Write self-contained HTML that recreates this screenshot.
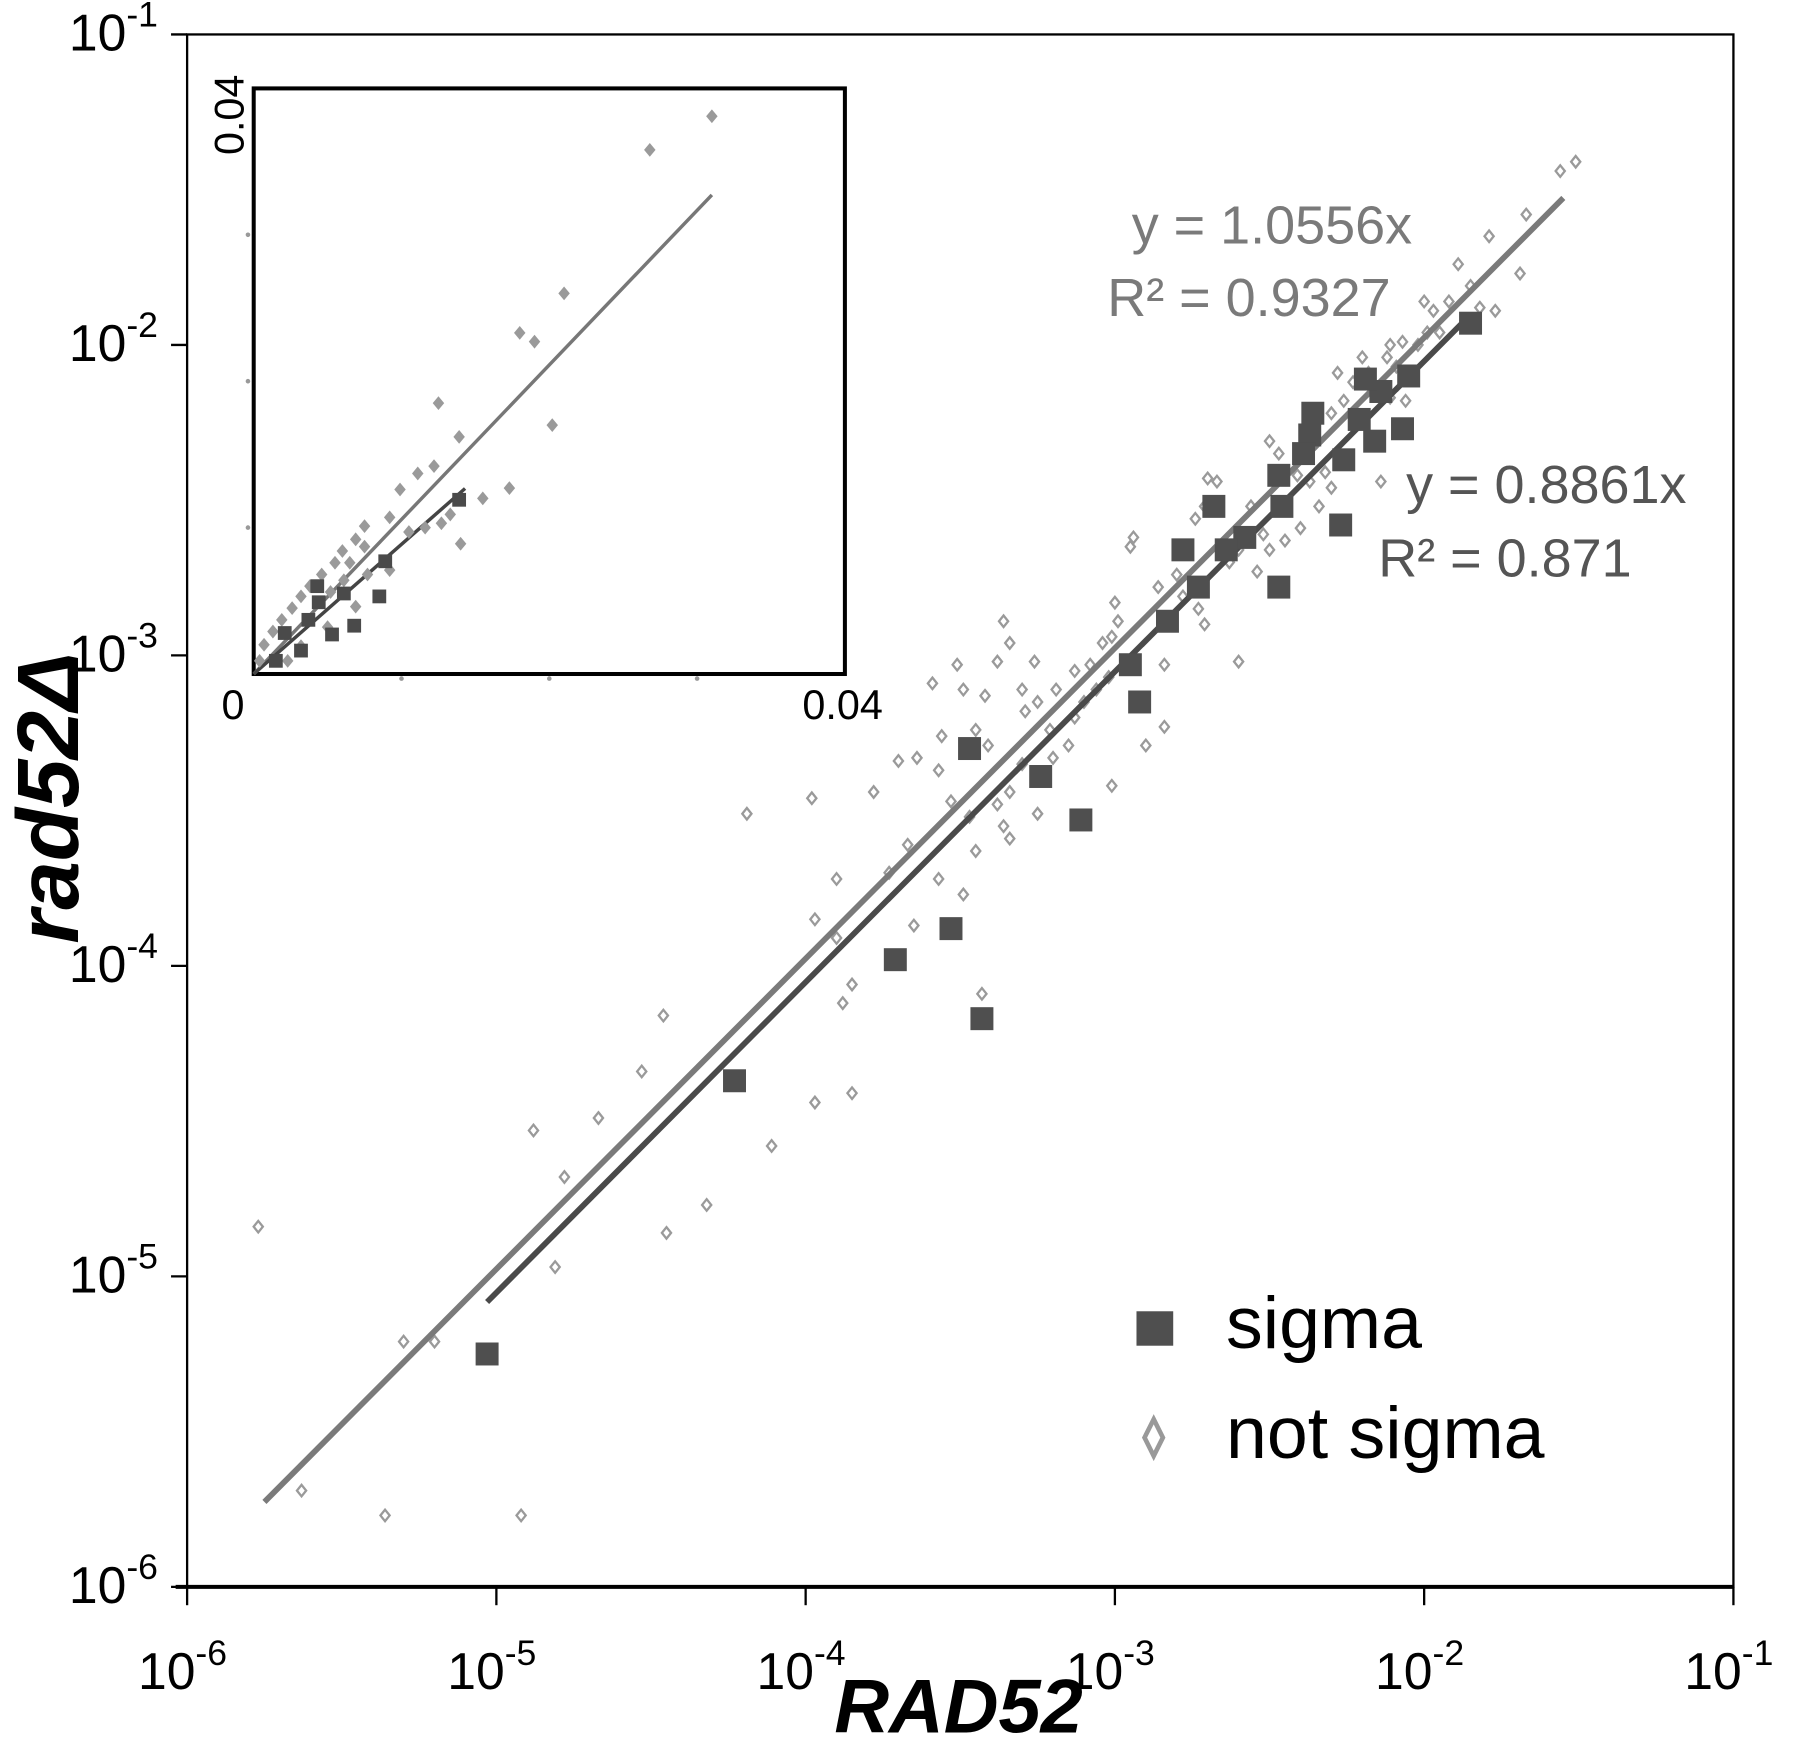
<!DOCTYPE html>
<html><head><meta charset="utf-8"><style>
html,body{margin:0;padding:0;background:#fff;}
svg{display:block;font-family:"Liberation Sans",Arial,sans-serif;}
</style></head><body>
<svg id="chart" width="1800" height="1743" viewBox="0 0 1568 1518" preserveAspectRatio="none" xmlns="http://www.w3.org/2000/svg">
<g id="axes"></g>
<g id="inset"></g>
<g id="marks"></g>
<g fill="#7a7a7a" font-size="47">
<text x="1108" y="212" text-anchor="middle">y = 1.0556x</text>
<text x="1088" y="275" text-anchor="middle">R² = 0.9327</text>
</g>
<g fill="#555" font-size="47">
<text x="1347" y="438" text-anchor="middle">y = 0.8861x</text>
<text x="1311" y="502" text-anchor="middle">R² = 0.871</text>
</g>
<g>
<rect x="990" y="1142" width="32" height="30" fill="#4f4f4f"/>
<text x="1068" y="1174" font-size="64" fill="#000">sigma</text>
<path d="M1005,1236 L1013,1252 L1005,1268 L997,1252 Z" fill="none" stroke="#999" stroke-width="4"/>
<text x="1068" y="1270" font-size="64" fill="#000">not sigma</text>
</g>
<text x="835" y="1509" text-anchor="middle" font-size="66" font-weight="bold" font-style="italic">RAD52</text>
<text transform="translate(68,695) rotate(-90)" text-anchor="middle" font-size="76" font-weight="bold" font-style="italic">rad52Δ</text>
</svg>
<script>
// main chart data (log10 values)
const xTickExps = [-6, -5, -4, -3, -2, -1];
const yTickExps = [-6, -5, -4, -3, -2, -1];
const sigmaLogX = [-1.85,-2.05,-2.07,-2.14,-2.16,-2.26,-2.21,-2.36,-2.37,-2.39,-2.27,-2.47,-2.46,-2.58,-2.64,-2.68,-2.78,-2.73,-2.47,-2.83,-2.95,-2.92,-3.47,-3.24,-3.11,-3.53,-3.71,-3.43,-4.23,-5.03,-2.19];
const sigmaLogY = [-1.93,-2.10,-2.27,-2.15,-2.31,-2.37,-2.24,-2.22,-2.29,-2.35,-2.58,-2.42,-2.52,-2.62,-2.66,-2.52,-2.66,-2.78,-2.78,-2.89,-3.03,-3.15,-3.30,-3.39,-3.53,-3.88,-3.98,-4.17,-4.37,-5.25,-2.11];
const notSigmaLogX = [-1.51,-1.56,-1.67,-1.69,-1.77,-1.79,-1.89,-1.85,-1.92,-1.97,-2.00,-1.82,-1.95,-1.99,-2.02,-2.07,-2.11,-2.12,-2.09,-2.18,-2.23,-2.28,-2.20,-2.26,-2.30,-2.11,-2.06,-2.14,-2.50,-2.47,-2.41,-2.37,-2.32,-2.30,-2.34,-2.40,-2.45,-2.52,-2.56,-2.67,-2.70,-2.71,-2.74,-2.63,-2.60,-2.54,-2.50,-2.60,-2.74,-2.73,-2.86,-2.80,-2.78,-2.71,-2.94,-2.95,-3.00,-2.99,-3.04,-3.01,-3.08,-3.02,-3.06,-3.10,-3.13,-3.13,-3.15,-3.20,-3.25,-3.29,-3.21,-2.90,-2.84,-2.84,-3.01,-3.36,-3.34,-3.38,-3.42,-3.45,-3.41,-3.30,-3.34,-3.38,-3.36,-3.34,-3.45,-3.25,-3.56,-3.59,-3.57,-3.70,-3.78,-3.73,-3.67,-3.53,-3.47,-3.49,-3.65,-3.57,-3.90,-3.98,-3.97,-4.19,-3.90,-3.85,-3.88,-3.43,-3.97,-3.85,-4.11,-4.46,-4.53,-4.67,-4.88,-4.78,-4.32,-4.45,-4.81,-5.20,-5.30,-5.77,-5.63,-5.36,-4.92,-3.64,-3.51,-3.49,-3.30,-3.26,-3.19];
const notSigmaLogY = [-1.41,-1.44,-1.58,-1.77,-1.89,-1.65,-1.74,-1.81,-1.86,-1.89,-1.86,-1.88,-1.96,-1.96,-2.00,-1.99,-2.00,-2.04,-2.07,-2.09,-2.12,-2.09,-2.04,-2.18,-2.22,-2.17,-2.18,-2.44,-2.31,-2.35,-2.42,-2.44,-2.41,-2.46,-2.52,-2.59,-2.63,-2.61,-2.52,-2.44,-2.43,-2.52,-2.56,-2.70,-2.66,-2.73,-2.66,-3.02,-2.78,-2.85,-2.78,-2.74,-2.81,-2.90,-2.62,-2.65,-2.83,-2.89,-2.96,-2.94,-3.03,-3.07,-3.11,-3.15,-3.05,-3.20,-3.29,-3.33,-3.15,-3.18,-3.24,-3.29,-3.23,-3.03,-3.42,-2.89,-2.96,-3.02,-3.13,-3.24,-3.29,-3.35,-3.44,-3.48,-3.55,-3.59,-3.63,-3.51,-3.26,-3.09,-3.37,-3.34,-3.44,-3.70,-3.61,-3.47,-3.52,-3.77,-3.87,-3.72,-3.72,-3.46,-3.85,-3.51,-3.91,-4.06,-4.12,-4.09,-4.44,-4.41,-4.58,-4.16,-4.34,-4.49,-4.53,-4.68,-4.77,-4.86,-4.97,-5.21,-5.21,-4.84,-5.69,-5.77,-5.77,-3.33,-3.03,-3.11,-3.11,-3.02,-3.11];
const grayFitSlope = 1.0556, grayFitRange = [-5.75, -1.55];
const darkFitSlope = 0.8861, darkFitRange = [-5.03, -1.87];
// inset data (linear)
const insetTicks = [0, 0.04];
const insetSigmaX = [0.0044,0.0043,0.0053,0.0032,0.0021,0.0068,0.0085,0.0139,0.0089,0.0061,0.0015,0.0037];
const insetSigmaY = [0.0049,0.0060,0.0027,0.0016,0.0028,0.0033,0.0053,0.0119,0.0077,0.0055,0.0009,0.0037];
const insetNotX = [0.0310,0.0268,0.0210,0.0180,0.0190,0.0202,0.0125,0.0173,0.0139,0.0122,0.0111,0.0099,0.0155,0.0140,0.0127,0.0133,0.0116,0.0105,0.0092,0.0075,0.0069,0.0060,0.0055,0.0046,0.0038,0.0032,0.0026,0.0019,0.0013,0.0007,0.0004,0.0023,0.0032,0.0077,0.0061,0.0052,0.0069,0.0085,0.0050,0.0075,0.0065,0.0092];
const insetNotY = [0.0381,0.0358,0.0260,0.0233,0.0227,0.0170,0.0185,0.0127,0.0162,0.0142,0.0137,0.0126,0.0120,0.0089,0.0103,0.0109,0.0100,0.0097,0.0107,0.0101,0.0092,0.0084,0.0076,0.0068,0.0060,0.0053,0.0045,0.0037,0.0029,0.0020,0.0009,0.0009,0.0019,0.0068,0.0064,0.0056,0.0046,0.0053,0.0032,0.0087,0.0076,0.0071];

const NS = 'http://www.w3.org/2000/svg';
const X0 = 163, X1 = 1510, Y0 = 1382, Y1 = 30;
function xs(e){ return X0 + (e - (-6)) / 5 * (X1 - X0); }
function ys(e){ return Y0 - (e - (-6)) / 5 * (Y0 - Y1); }
const IX0 = 221, IX1 = 736, IY0 = 587, IY1 = 77;
function ixs(v){ return IX0 + v / 0.04 * (IX1 - IX0); }
function iys(v){ return IY0 - v / 0.04 * (IY0 - IY1); }
function mk(tag, attrs, parent){ const e = document.createElementNS(NS, tag); for (const k in attrs) e.setAttribute(k, attrs[k]); parent.appendChild(e); return e; }

const axes = document.getElementById('axes');
let a = mk('rect', {x:X0, y:Y1, width:X1-X0, height:Y0-Y1, fill:'none', stroke:'#000', 'stroke-width':2}, axes);


let xa = mk('line', {x1:X0-10, x2:X1, y1:Y0, y2:Y0, stroke:'#000', 'stroke-width':3.5}, axes);


xTickExps.forEach(e => {
  const x = xs(e);
  const t = mk('line', {x1:x, x2:x, y1:Y0, y2:Y0+16, stroke:'#000', 'stroke-width':2}, axes);
  
  
  const l = mk('text', {x:x-4, y:1471, 'text-anchor':'middle', 'font-size':45}, axes);
  
  
  l.innerHTML = '10<tspan dy="-21" font-size="31">' + e + '</tspan>';
});
yTickExps.forEach(e => {
  const y = ys(e);
  const t = mk('line', {x1:X0-14, x2:X0, y1:y, y2:y, stroke:'#000', 'stroke-width':2}, axes);
  
  
  const l = mk('text', {x:60, y:y+14, 'font-size':45}, axes);
  
  
  l.innerHTML = '10<tspan dy="-21" font-size="31">' + e + '</tspan>';
});

// inset
const inset = document.getElementById('inset');
let b = mk('rect', {x:IX0, y:IY1, width:IX1-IX0, height:IY0-IY1, fill:'none', stroke:'#000', 'stroke-width':3.5}, inset);


[0.01,0.02,0.03].forEach(v => {
  const d1 = mk('circle', {cx:216, cy:iys(v), r:2, fill:'#999'}, inset);
  
  
  const d2 = mk('circle', {cx:ixs(v), cy:591, r:2, fill:'#999'}, inset);
  
  
});
let t0 = mk('text', {x:203, y:626, 'text-anchor':'middle', 'font-size':36}, inset);


t0.textContent = insetTicks[0];
let t1 = mk('text', {x:734, y:626, 'text-anchor':'middle', 'font-size':36}, inset);


t1.textContent = insetTicks[1];
let t2 = mk('text', {transform:'translate(212,100) rotate(-90)', 'text-anchor':'middle', 'font-size':36}, inset);


t2.textContent = insetTicks[1];
let il1 = mk('line', {x1:ixs(0), y1:iys(0), x2:ixs(0.031), y2:iys(0.031*grayFitSlope), stroke:'#777', 'stroke-width':3}, inset);


let il2 = mk('line', {x1:ixs(0), y1:iys(0), x2:ixs(0.0143), y2:iys(0.0143*darkFitSlope), stroke:'#444', 'stroke-width':3}, inset);


insetNotX.forEach((v,i) => {
  const x = ixs(v), y = iys(insetNotY[i]);
  const p = mk('path', {d:`M${x},${y-6} L${x+5},${y} L${x},${y+6} L${x-5},${y} Z`, fill:'#9a9a9a'}, inset);
  
  
});
insetSigmaX.forEach((v,i) => {
  const x = ixs(v), y = iys(insetSigmaY[i]);
  const p = mk('rect', {x:x-6, y:y-6, width:12, height:12, fill:'#4a4a4a'}, inset);
  
  
});

// main marks
const marks = document.getElementById('marks');
notSigmaLogX.forEach((v,i) => {
  const x = xs(v), y = ys(notSigmaLogY[i]);
  const p = mk('path', {d:`M${x},${y-5} L${x+4},${y} L${x},${y+5} L${x-4},${y} Z`, fill:'none', stroke:'#9a9a9a', 'stroke-width':2}, marks);
  
  
});
const lg = Math.log10(grayFitSlope), ld = Math.log10(darkFitSlope);
let gl = mk('line', {x1:xs(grayFitRange[0]), y1:ys(grayFitRange[0]+lg), x2:xs(grayFitRange[1]), y2:ys(grayFitRange[1]+lg), stroke:'#7a7a7a', 'stroke-width':5}, marks);


let dl = mk('line', {x1:xs(darkFitRange[0]), y1:ys(darkFitRange[0]+ld), x2:xs(darkFitRange[1]), y2:ys(darkFitRange[1]+ld), stroke:'#4a4a4a', 'stroke-width':5}, marks);


sigmaLogX.forEach((v,i) => {
  const x = xs(v), y = ys(sigmaLogY[i]);
  const p = mk('rect', {x:x-10, y:y-10, width:20, height:20, fill:'#4f4f4f'}, marks);
  
  
});
</script>
</body></html>
